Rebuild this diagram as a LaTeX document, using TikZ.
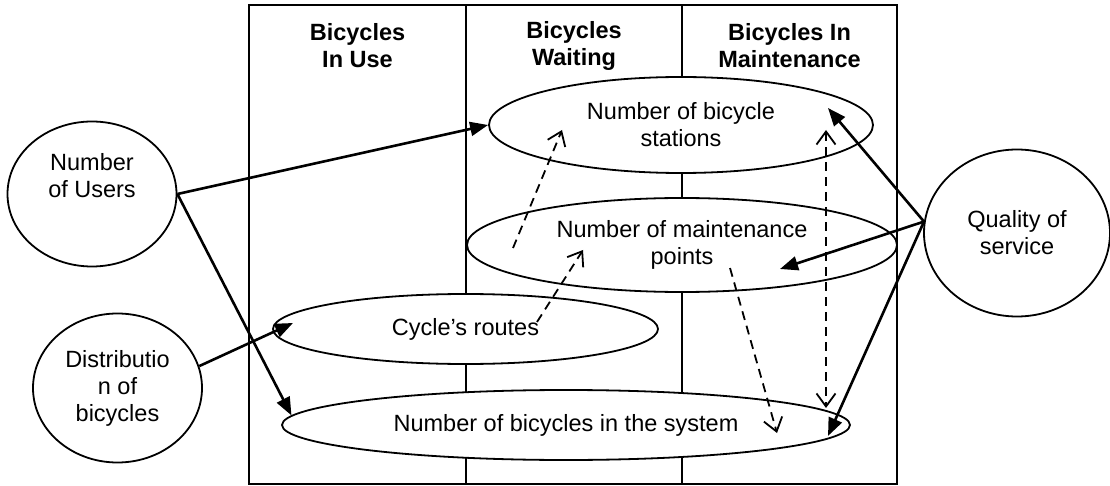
\documentclass[tikz,border=0pt]{standalone}
\usepackage{fontspec}
\setmainfont{Liberation Sans}
\usetikzlibrary{shapes.geometric,arrows.meta}

\begin{document}
\begin{tikzpicture}[x=1pt,y=-1pt,
    blob/.tip={Triangle[length=18pt,width=14pt]},
    barb/.tip={Straight Barb[length=13pt,width=19pt,line width=1.8pt]},
    txt/.style={align=center,font=\fontsize{23.5}{27}\selectfont},
    head/.style={align=center,font=\bfseries\fontsize{23.5}{27}\selectfont},
    bubble/.style={txt,draw,ellipse,fill=white,line width=1.8pt,inner sep=0pt},
    link/.style={line width=2.6pt,-blob},
    hint/.style={line width=1.8pt,dash pattern=on 9pt off 6pt,-barb}]
    \useasboundingbox (0,0) rectangle (1110,486);
    % table with the three states
    \draw[line width=2pt] (249,5) rectangle (897,484);
    \draw[line width=2pt] (466,5) -- (466,484) (682,5) -- (682,484);
    \node[head] (inuse) at (357.5,46) {Bicycles\\In Use};
    \node[head] (waiting) at (574,46) {Bicycles\\Waiting};
    \node[head] (inmaint) at (789.5,46) {Bicycles In\\Maintenance};
    % variables
    \node[bubble,minimum width=384pt,minimum height=96pt] (stations) at (681,125) {Number of bicycle\\stations};
    \node[bubble,minimum width=430pt,minimum height=94pt] (maint) at (682,245) {Number of maintenance\\points};
    \node[bubble,minimum width=385pt,minimum height=70pt] (routes) at (465.5,329) {Cycle’s routes};
    \node[bubble,minimum width=568pt,minimum height=70pt] (system) at (566,425) {Number of bicycles in the system};
    \node[bubble,minimum width=169pt,minimum height=145pt] (users) at (92,194) {};
    \node[txt] (userstxt) at (92,176) {Number\\of Users};
    \node[bubble,minimum width=169pt,minimum height=149pt] (distrib) at (117.5,388) {Distributio\\n of\\bicycles};
    \node[bubble,minimum width=186pt,minimum height=167pt] (quality) at (1017,233) {Quality of\\service};
    % free ends inside the ellipses
    \coordinate (routesin) at (293,323);
    \coordinate (stationsq) at (828,108);
    \coordinate (maintq) at (780,269);
    \coordinate (systemq) at (828,436);
    \coordinate (maintup) at (513,248);
    \coordinate (stationsl) at (562,130);
    \coordinate (routesup) at (537,322);
    \coordinate (maintl) at (583,250);
    \coordinate (maintdown) at (730,268);
    \coordinate (systemr) at (777,433);
    \coordinate (stationsr) at (826,130);
    \coordinate (systemrr) at (826,408);
    % influences
    \draw[link] (users.east) -- (stations.west);
    \draw[link] (users.east) -- (system.178);
    \draw[link] (distrib.15) -- (routesin);
    \draw[link] (quality.173) -- (stationsq);
    \draw[link] (quality.173) -- (maintq);
    \draw[link] (quality.173) -- (systemq);
    \draw[hint] (maintup) -- (stationsl);
    \draw[hint] (routesup) -- (maintl);
    \draw[hint] (maintdown) -- (systemr);
    \draw[hint,barb-barb] (stationsr) -- (systemrr);
\end{tikzpicture}
\end{document}
